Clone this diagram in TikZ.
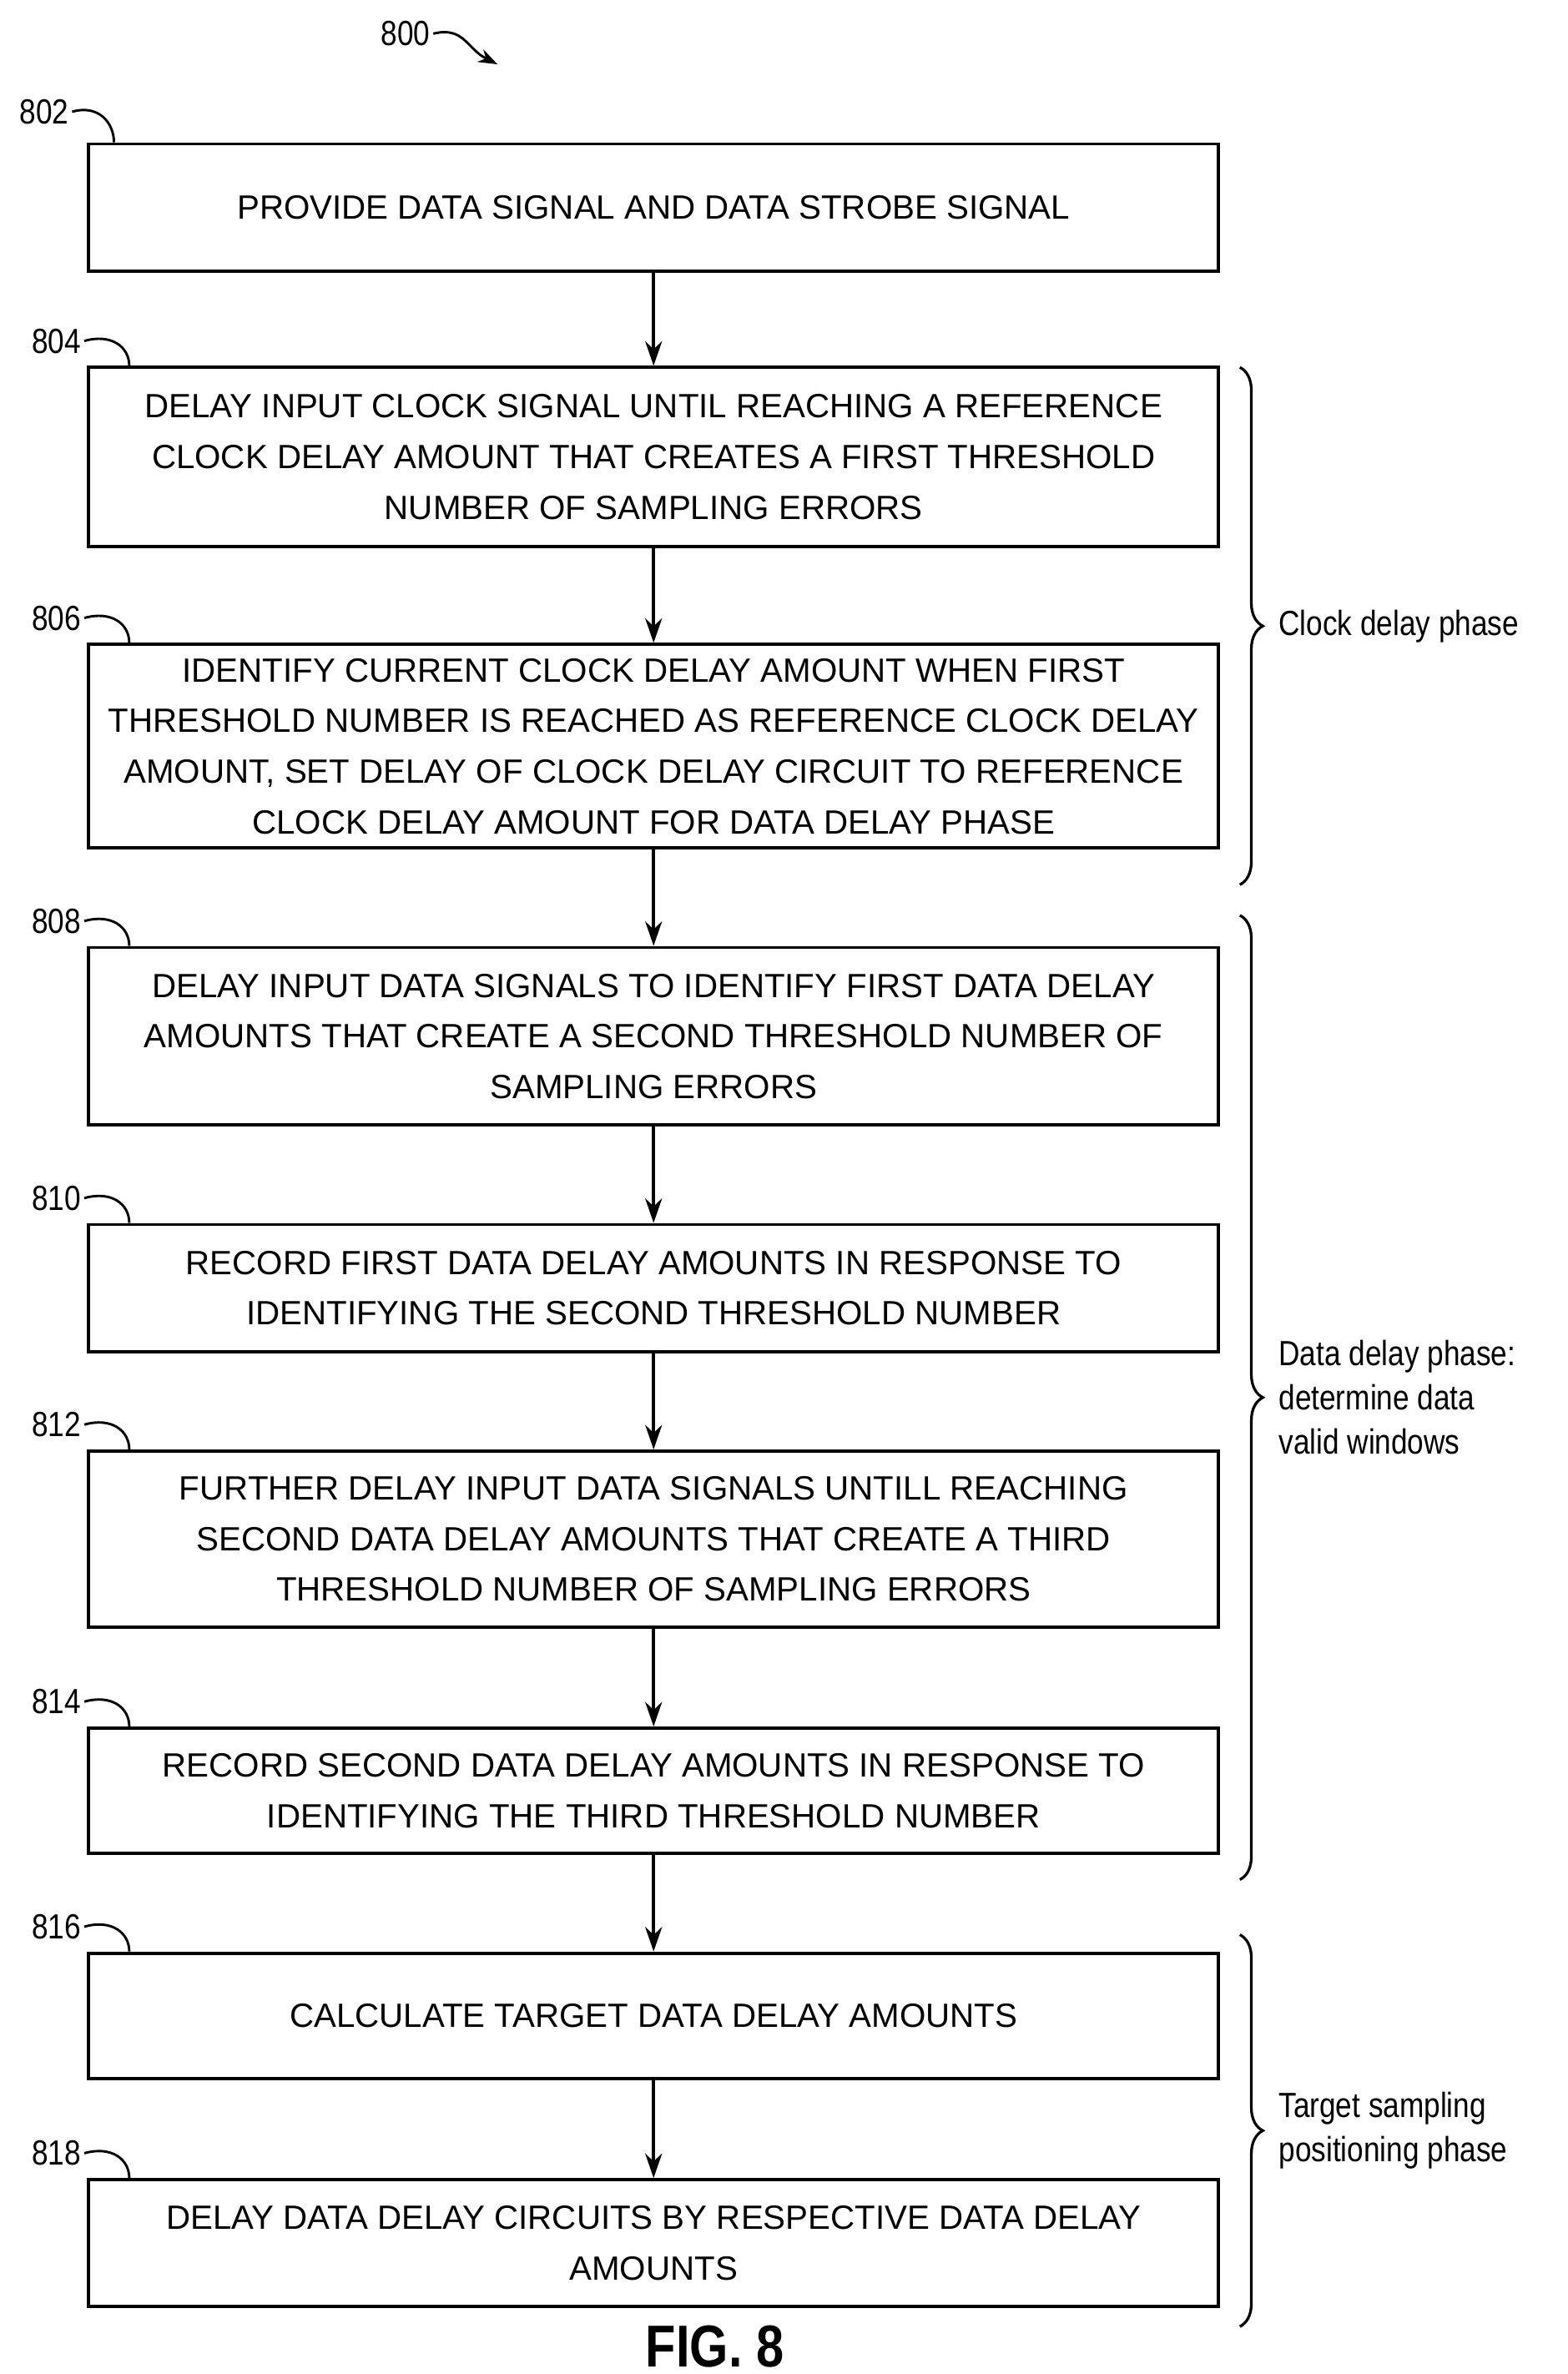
\documentclass[tikz,border=0pt]{standalone}
\usepackage{fontspec}
\setmainfont{Liberation Sans}
\newfontfamily\narrowfont[FakeStretch=0.84]{Liberation Sans}
\usetikzlibrary{calc, positioning, arrows.meta, decorations.pathreplacing}
\tikzset{
    flowStep/.style={rectangle, draw=black, line width=1.2pt, fill=white, align=center, minimum width=14.76cm, inner sep=0pt, font=\fontsize{12.5}{18.8}\selectfont},
    arrow/.style={-{Stealth[length=0.32cm, width=0.22cm]}, line width=1.1pt},
    ref/.style={font=\narrowfont\fontsize{13}{15}\selectfont, inner sep=1pt},
    lead/.style={line width=0.9pt},
    brace/.style={decorate, decoration={brace, amplitude=0.3cm}, line width=1pt},
    phase/.style={font=\narrowfont\fontsize{13}{16.5}\selectfont, align=left, anchor=west}
}
\begin{document}
\begin{tikzpicture}
    \useasboundingbox (0,0) rectangle (20.48,-31.02);
    % Steps
    \node[flowStep, minimum height=1.66cm] (S802) at (8.54,-2.71) {PROVIDE DATA SIGNAL AND DATA STROBE SIGNAL};
    \node[flowStep, minimum height=2.34cm] (S804) at (8.54,-5.97) {DELAY INPUT CLOCK SIGNAL UNTIL REACHING A REFERENCE\\CLOCK DELAY AMOUNT THAT CREATES A FIRST THRESHOLD\\NUMBER OF SAMPLING ERRORS};
    \node[flowStep, minimum height=2.66cm] (S806) at (8.54,-9.75) {IDENTIFY CURRENT CLOCK DELAY AMOUNT WHEN FIRST\\THRESHOLD NUMBER IS REACHED AS REFERENCE CLOCK DELAY\\AMOUNT, SET DELAY OF CLOCK DELAY CIRCUIT TO REFERENCE\\CLOCK DELAY AMOUNT FOR DATA DELAY PHASE};
    \node[flowStep, minimum height=2.32cm] (S808) at (8.54,-13.54) {DELAY INPUT DATA SIGNALS TO IDENTIFY FIRST DATA DELAY\\AMOUNTS THAT CREATE A SECOND THRESHOLD NUMBER OF\\SAMPLING ERRORS};
    \node[flowStep, minimum height=1.66cm] (S810) at (8.54,-16.83) {RECORD FIRST DATA DELAY AMOUNTS IN RESPONSE TO\\IDENTIFYING THE SECOND THRESHOLD NUMBER};
    \node[flowStep, minimum height=2.30cm] (S812) at (8.54,-20.11) {FURTHER DELAY INPUT DATA SIGNALS UNTILL REACHING\\SECOND DATA DELAY AMOUNTS THAT CREATE A THIRD\\THRESHOLD NUMBER OF SAMPLING ERRORS};
    \node[flowStep, minimum height=1.64cm] (S814) at (8.54,-23.40) {RECORD SECOND DATA DELAY AMOUNTS IN RESPONSE TO\\IDENTIFYING THE THIRD THRESHOLD NUMBER};
    \node[flowStep, minimum height=1.64cm] (S816) at (8.54,-26.34) {CALCULATE TARGET DATA DELAY AMOUNTS};
    \node[flowStep, minimum height=1.66cm] (S818) at (8.54,-29.31) {DELAY DATA DELAY CIRCUITS BY RESPECTIVE DATA DELAY\\AMOUNTS};

    % Wires
    \foreach \a/\b in {802/804, 804/806, 806/808, 808/810, 810/812, 812/814, 814/816, 816/818}
        \draw[arrow] (S\a) -- (S\b);

    % Reference numerals
    \node[ref] (L802) at (0.58,-1.46) {802};
    \draw[lead] (L802.east) .. controls +(0.35,0.1) and +(0,0.25) .. ($(S802.north west)+(0.35,0)$);
    \foreach \n in {804, 806, 808, 810, 812, 814, 816, 818} {
        \node[ref, anchor=south] (L\n) at ($(S\n.north west)+(-0.4,0.12)$) {\n};
        \draw[lead] (L\n.east) .. controls +(0.35,0.1) and +(0,0.25) .. ($(S\n.north west)+(0.55,0)$);
    }
    \node[ref] (L800) at (5.3,-0.44) {800};
    \draw[lead, -{Stealth[length=0.25cm, width=0.18cm]}] (L800.east) .. controls +(0.4,0.1) and +(-0.4,0.2) .. (6.5,-0.84);

    % Phases
    \draw[brace] (16.2,-4.80) -- (16.2,-11.56) node[midway, xshift=0.25cm] (B1) {};
    \node[phase] (P1) at (B1.east) {Clock delay phase};
    \draw[brace] (16.2,-11.96) -- (16.2,-24.56) node[midway, xshift=0.25cm] (B2) {};
    \node[phase] (P2) at (B2.east) {Data delay phase:\\determine data\\valid windows};
    \draw[brace] (16.2,-25.28) -- (16.2,-30.40) node[midway, xshift=0.25cm] (B3) {};
    \node[phase] (P3) at (B3.east) {Target sampling\\positioning phase};

    % Figure label
    \node[font=\narrowfont\bfseries\fontsize{22}{26}\selectfont] (Fig) at (9.34,-30.66) {FIG. 8};
\end{tikzpicture}
\end{document}
